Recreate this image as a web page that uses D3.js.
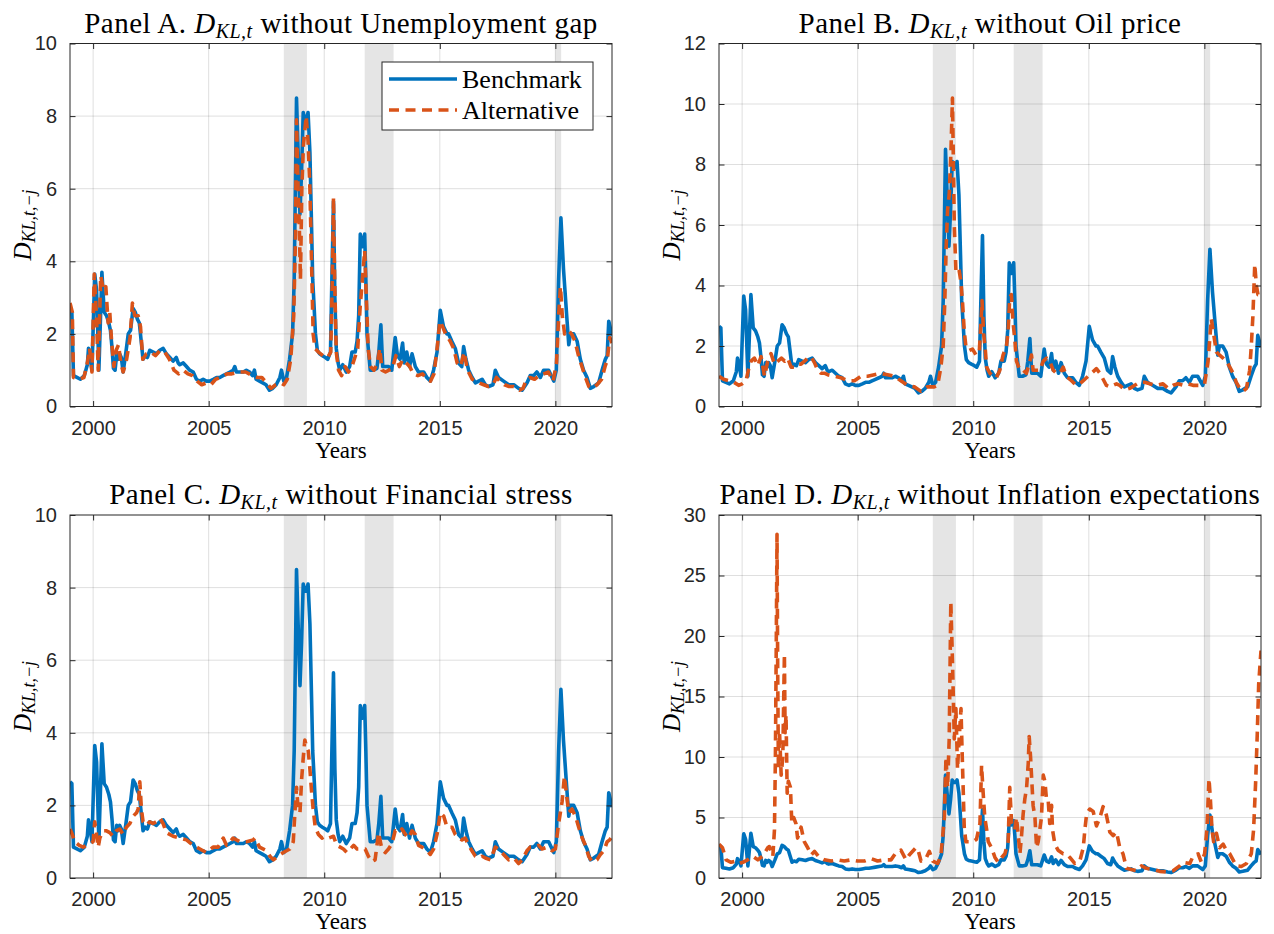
<!DOCTYPE html>
<html>
<head>
<meta charset="utf-8">
<script src="https://cdn.jsdelivr.net/npm/d3@7"></script>
<style>
  body { margin: 0; background: #fff; }
</style>
</head>
<body>
<script>
const width = 1274;
const height = 934;

const xTicks = [2000, 2005, 2010, 2015, 2020];
const xDomain = [1999.0, 2022.45];
const recessions = [[2008.25, 2009.25], [2011.75, 2013.0], [2020.0, 2020.25]];

// benchmark D_KL (same in every panel): [year, value]
const benchmark = [
  [1999.0,2.65],[1999.08,2.6],[1999.15,0.85],[1999.3,0.8],[1999.45,0.75],[1999.62,0.85],[1999.75,1.15],[1999.8,1.6],
  [1999.88,1.35],[1999.95,1.0],[2000.07,3.65],[2000.15,3.2],[2000.25,1.0],[2000.38,3.7],[2000.48,2.6],[2000.58,2.5],
  [2000.68,2.3],[2000.75,2.1],[2000.82,1.6],[2000.88,1.05],[2000.95,1.0],[2001.02,1.45],[2001.08,1.3],[2001.15,1.45],
  [2001.22,1.35],[2001.3,0.95],[2001.42,1.5],[2001.52,2.0],[2001.62,2.1],[2001.73,2.7],[2001.82,2.6],[2001.92,2.4],
  [2002.0,2.3],[2002.08,1.8],[2002.16,1.3],[2002.25,1.4],[2002.35,1.35],[2002.45,1.55],[2002.6,1.5],[2002.74,1.45],
  [2002.88,1.55],[2003.03,1.6],[2003.17,1.45],[2003.32,1.35],[2003.46,1.25],[2003.6,1.35],[2003.68,1.2],[2003.75,1.15],
  [2003.9,1.2],[2004.04,1.1],[2004.18,1.0],[2004.33,0.95],[2004.47,0.75],[2004.62,0.7],[2004.76,0.75],[2004.9,0.7],
  [2005.05,0.7],[2005.2,0.75],[2005.34,0.8],[2005.48,0.8],[2005.62,0.85],[2005.77,0.9],[2005.92,0.95],[2006.06,1.0],
  [2006.13,1.1],[2006.2,0.95],[2006.35,0.95],[2006.5,0.95],[2006.63,1.0],[2006.77,0.95],[2006.9,0.85],[2006.98,1.0],
  [2007.05,0.75],[2007.2,0.7],[2007.34,0.65],[2007.48,0.6],[2007.63,0.45],[2007.77,0.5],[2007.92,0.6],[2008.08,0.8],
  [2008.15,1.0],[2008.25,0.7],[2008.37,0.8],[2008.5,1.3],[2008.63,2.0],[2008.7,3.5],[2008.75,6.0],[2008.8,8.5],
  [2008.87,7.0],[2008.95,5.3],[2009.02,6.5],[2009.09,8.1],[2009.16,7.9],[2009.23,7.9],[2009.3,8.1],[2009.38,7.0],
  [2009.45,5.0],[2009.5,3.5],[2009.55,2.9],[2009.62,2.0],[2009.7,1.55],[2009.8,1.45],[2009.92,1.4],[2010.05,1.35],
  [2010.15,1.3],[2010.27,1.5],[2010.33,3.5],[2010.4,5.65],[2010.46,3.0],[2010.52,1.6],[2010.6,1.2],[2010.67,1.0],
  [2010.8,1.15],[2010.95,0.95],[2011.1,1.1],[2011.2,1.5],[2011.34,1.5],[2011.42,1.8],[2011.49,2.5],[2011.56,4.75],
  [2011.65,4.4],[2011.75,4.75],[2011.8,3.5],[2011.85,2.0],[2011.92,1.5],[2011.99,1.0],[2012.13,1.0],[2012.28,1.05],
  [2012.36,1.5],[2012.45,2.25],[2012.53,1.1],[2012.63,1.1],[2012.78,1.1],[2012.92,1.0],[2013.07,1.9],[2013.17,1.4],
  [2013.28,1.3],[2013.39,1.75],[2013.46,1.2],[2013.57,1.5],[2013.69,1.1],[2013.8,1.45],[2013.94,1.1],[2014.08,0.95],
  [2014.3,0.95],[2014.44,0.8],[2014.59,0.7],[2014.73,1.0],[2014.88,1.5],[2015.02,2.65],[2015.16,2.2],[2015.31,2.0],
  [2015.38,2.0],[2015.52,1.8],[2015.67,1.6],[2015.81,1.2],[2015.95,1.1],[2016.03,1.65],[2016.13,1.3],[2016.25,1.0],
  [2016.4,0.8],[2016.54,0.65],[2016.68,0.7],[2016.83,0.75],[2016.97,0.6],[2017.11,0.55],[2017.3,0.6],[2017.4,1.0],
  [2017.54,0.8],[2017.76,0.7],[2017.98,0.6],[2018.2,0.6],[2018.41,0.5],[2018.56,0.45],[2018.77,0.65],[2018.91,0.85],
  [2019.06,0.85],[2019.2,0.95],[2019.35,0.8],[2019.49,1.0],[2019.71,1.0],[2019.93,0.7],[2020.04,1.0],[2020.14,3.5],
  [2020.24,5.2],[2020.35,3.8],[2020.49,2.5],[2020.58,1.7],[2020.65,2.0],[2020.79,2.0],[2020.94,1.8],[2021.08,1.3],
  [2021.22,1.0],[2021.37,0.8],[2021.51,0.5],[2021.66,0.55],[2021.87,0.65],[2022.02,1.0],[2022.16,1.3],[2022.24,1.4],
  [2022.31,2.35],[2022.45,1.95]
];

// alternative without unemployment gap
const altA = [
  [1999.0,2.85],[1999.1,2.6],[1999.15,0.8],[1999.4,0.75],[1999.6,0.8],[1999.75,1.2],[1999.85,1.6],[1999.95,0.95],
  [2000.05,3.65],[2000.15,2.4],[2000.22,1.0],[2000.33,3.6],[2000.45,3.2],[2000.55,3.3],[2000.65,2.3],[2000.72,2.6],
  [2000.8,1.8],[2000.9,1.1],[2001.0,1.55],[2001.1,1.7],[2001.2,1.2],[2001.3,0.95],[2001.45,1.3],[2001.6,1.9],
  [2001.7,2.85],[2001.8,2.5],[2001.95,2.5],[2002.05,2.2],[2002.15,1.3],[2002.3,1.45],[2002.5,1.5],[2002.7,1.4],
  [2002.9,1.55],[2003.1,1.5],[2003.3,1.3],[2003.5,1.0],[2003.7,0.9],[2003.9,1.0],[2004.1,0.9],[2004.3,0.85],
  [2004.5,0.7],[2004.7,0.6],[2004.9,0.65],[2005.1,0.6],[2005.3,0.75],[2005.5,0.8],[2005.8,0.9],[2006.0,0.9],
  [2006.3,0.95],[2006.6,0.95],[2006.9,0.85],[2007.1,0.8],[2007.3,0.8],[2007.5,0.65],[2007.7,0.5],[2007.9,0.6],
  [2008.1,0.65],[2008.25,0.6],[2008.4,0.75],[2008.55,1.3],[2008.68,2.5],[2008.75,4.5],[2008.8,7.9],[2008.87,6.0],
  [2008.92,5.0],[2008.97,3.5],[2009.03,6.0],[2009.1,7.2],[2009.22,8.0],[2009.3,7.3],[2009.38,6.0],[2009.45,4.0],
  [2009.52,2.0],[2009.6,1.6],[2009.75,1.5],[2009.95,1.4],[2010.15,1.35],[2010.28,1.5],[2010.35,3.5],[2010.4,5.75],
  [2010.45,3.5],[2010.52,1.5],[2010.62,1.0],[2010.75,0.85],[2010.9,1.1],[2011.05,0.95],[2011.2,1.1],[2011.35,1.4],
  [2011.45,1.6],[2011.55,2.7],[2011.65,3.5],[2011.75,4.3],[2011.82,3.0],[2011.9,1.6],[2012.0,1.1],[2012.15,1.0],
  [2012.3,1.2],[2012.4,1.6],[2012.5,1.0],[2012.65,0.95],[2012.8,1.0],[2012.95,1.05],[2013.1,1.4],[2013.25,1.1],
  [2013.4,1.3],[2013.55,1.2],[2013.7,1.1],[2013.85,0.9],[2014.05,0.85],[2014.25,0.9],[2014.45,0.75],[2014.6,0.7],
  [2014.75,0.9],[2014.9,1.7],[2015.0,2.35],[2015.12,2.2],[2015.25,2.0],[2015.45,1.8],[2015.6,1.6],[2015.75,1.2],
  [2015.9,1.1],[2016.05,1.5],[2016.2,1.0],[2016.4,0.75],[2016.55,0.7],[2016.7,0.65],[2016.9,0.6],[2017.1,0.55],
  [2017.3,0.6],[2017.45,0.8],[2017.6,0.7],[2017.8,0.6],[2018.0,0.55],[2018.2,0.55],[2018.45,0.45],[2018.6,0.5],
  [2018.75,0.75],[2018.9,0.8],[2019.1,0.75],[2019.3,0.85],[2019.5,0.9],[2019.7,0.95],[2019.9,0.7],[2020.05,1.2],
  [2020.15,2.6],[2020.22,3.3],[2020.3,2.5],[2020.4,2.0],[2020.55,2.1],[2020.7,2.0],[2020.85,1.8],[2021.0,1.4],
  [2021.15,1.1],[2021.3,0.8],[2021.45,0.55],[2021.6,0.5],[2021.8,0.6],[2022.0,0.75],[2022.15,1.1],[2022.25,1.3],
  [2022.35,1.9],[2022.45,1.75]
];

// alternative without oil price
const altB = [
  [1999.0,1.0],[1999.2,0.9],[1999.45,0.85],[1999.65,0.8],[1999.85,0.7],[2000.0,0.75],[2000.17,0.85],[2000.3,1.3],
  [2000.39,1.5],[2000.53,1.6],[2000.68,1.35],[2000.82,1.65],[2000.97,1.0],[2001.11,1.5],[2001.25,1.75],[2001.4,1.4],
  [2001.55,1.5],[2001.7,1.6],[2001.84,1.5],[2001.97,1.6],[2002.12,1.3],[2002.26,1.3],[2002.4,1.4],[2002.55,1.4],
  [2002.7,1.5],[2002.84,1.6],[2002.98,1.65],[2003.13,1.45],[2003.27,1.2],[2003.41,1.1],[2003.56,1.1],[2003.7,1.05],
  [2004.0,1.0],[2004.28,0.95],[2004.57,0.85],[2004.86,0.85],[2005.14,1.0],[2005.43,1.0],[2005.72,1.05],[2006.0,1.1],
  [2006.29,1.05],[2006.58,1.0],[2006.87,0.85],[2007.16,0.7],[2007.45,0.65],[2007.74,0.5],[2008.02,0.65],[2008.31,0.65],
  [2008.46,0.7],[2008.6,1.3],[2008.7,2.0],[2008.77,3.5],[2008.83,5.3],[2008.89,6.5],[2008.96,7.0],[2009.03,8.3],
  [2009.1,10.2],[2009.18,6.0],[2009.25,4.5],[2009.32,4.6],[2009.39,4.5],[2009.47,4.1],[2009.54,3.4],[2009.61,2.5],
  [2009.68,2.0],[2009.83,1.85],[2009.97,1.9],[2010.12,1.7],[2010.26,1.8],[2010.33,2.7],[2010.38,3.5],[2010.45,2.4],
  [2010.52,1.9],[2010.58,1.3],[2010.72,1.1],[2010.86,1.0],[2011.0,0.95],[2011.15,1.2],[2011.29,1.7],[2011.44,2.0],
  [2011.51,2.5],[2011.58,3.6],[2011.65,3.7],[2011.72,2.8],[2011.8,2.2],[2011.87,1.5],[2012.02,1.2],[2012.16,1.2],
  [2012.3,1.1],[2012.45,1.5],[2012.52,1.7],[2012.59,1.2],[2012.74,1.2],[2012.88,1.2],[2013.03,1.5],[2013.17,1.6],
  [2013.31,1.5],[2013.46,1.2],[2013.6,1.1],[2013.75,1.1],[2013.89,1.3],[2014.03,1.0],[2014.18,0.9],[2014.32,0.8],
  [2014.47,0.7],[2014.68,0.8],[2014.9,0.95],[2015.12,1.1],[2015.33,1.25],[2015.48,1.1],[2015.62,0.9],[2015.76,0.7],
  [2015.91,0.65],[2016.2,0.75],[2016.34,0.7],[2016.56,0.55],[2016.77,0.6],[2016.99,0.7],[2017.2,0.8],[2017.42,0.8],
  [2017.64,0.75],[2017.93,0.7],[2018.21,0.75],[2018.43,0.6],[2018.65,0.7],[2018.86,0.75],[2019.08,0.7],[2019.3,0.75],
  [2019.51,0.7],[2019.8,0.7],[2020.01,0.75],[2020.16,1.5],[2020.3,2.9],[2020.4,2.4],[2020.52,1.8],[2020.66,1.7],
  [2020.81,1.6],[2020.95,1.5],[2021.1,1.3],[2021.24,1.1],[2021.38,0.8],[2021.53,0.6],[2021.67,0.5],[2021.82,0.6],
  [2021.96,1.2],[2022.03,2.0],[2022.1,3.0],[2022.18,4.7],[2022.25,4.0],[2022.32,3.7],[2022.45,3.7]
];

// alternative without financial stress
const altC = [
  [1999.0,1.35],[1999.1,1.2],[1999.2,1.0],[1999.4,0.9],[1999.57,0.85],[1999.72,0.9],[1999.86,0.95],[2000.0,1.0],
  [2000.07,1.55],[2000.15,1.2],[2000.22,0.85],[2000.29,1.1],[2000.43,1.3],[2000.58,1.3],[2000.72,1.25],[2000.86,1.15],
  [2001.0,1.3],[2001.15,1.35],[2001.3,1.2],[2001.44,1.4],[2001.59,1.5],[2001.73,1.7],[2001.88,1.8],[2001.95,1.9],
  [2002.02,2.65],[2002.09,1.9],[2002.16,1.55],[2002.3,1.45],[2002.45,1.55],[2002.6,1.5],[2002.74,1.55],[2002.89,1.65],
  [2003.03,1.5],[2003.17,1.25],[2003.46,1.15],[2003.75,1.1],[2004.04,1.05],[2004.33,0.9],[2004.62,0.8],[2004.9,0.7],
  [2005.19,0.85],[2005.41,0.85],[2005.63,1.1],[2005.77,0.9],[2005.92,1.0],[2006.06,1.1],[2006.35,1.0],[2006.64,1.0],
  [2006.93,1.05],[2007.0,1.1],[2007.2,0.85],[2007.5,0.75],[2007.65,0.6],[2007.8,0.5],[2008.0,0.6],[2008.22,0.7],
  [2008.37,0.75],[2008.51,0.8],[2008.66,1.0],[2008.73,1.8],[2008.8,2.5],[2008.87,1.9],[2008.95,1.8],[2009.02,2.7],
  [2009.09,3.3],[2009.16,3.8],[2009.24,3.6],[2009.31,3.5],[2009.38,3.0],[2009.45,2.4],[2009.52,1.9],[2009.61,1.4],
  [2009.75,1.2],[2009.9,1.1],[2010.04,1.15],[2010.19,1.1],[2010.4,1.15],[2010.54,0.9],[2010.69,0.85],[2010.83,0.8],
  [2010.98,0.7],[2011.13,0.8],[2011.27,0.9],[2011.42,0.8],[2011.56,0.8],[2011.77,0.8],[2011.91,0.6],[2012.06,0.45],
  [2012.2,0.5],[2012.35,1.25],[2012.49,0.8],[2012.64,0.7],[2012.78,0.8],[2012.93,0.95],[2013.07,1.3],[2013.22,1.25],
  [2013.36,1.35],[2013.51,1.2],[2013.65,1.1],[2013.8,1.3],[2013.94,1.2],[2014.08,0.9],[2014.23,0.85],[2014.44,0.75],
  [2014.59,0.65],[2014.73,0.8],[2014.88,1.2],[2015.02,1.8],[2015.17,1.7],[2015.31,1.4],[2015.53,1.4],[2015.67,1.2],
  [2015.82,1.1],[2015.96,1.05],[2016.1,1.1],[2016.25,0.9],[2016.39,0.75],[2016.54,0.6],[2016.68,0.55],[2016.83,0.6],
  [2016.97,0.55],[2017.19,0.5],[2017.4,0.85],[2017.54,0.8],[2017.76,0.65],[2017.98,0.5],[2018.2,0.55],[2018.41,0.4],
  [2018.56,0.5],[2018.77,0.75],[2018.91,0.85],[2019.06,0.85],[2019.27,0.9],[2019.42,0.8],[2019.64,0.85],[2019.86,0.75],
  [2020.0,0.8],[2020.14,1.5],[2020.29,2.1],[2020.39,2.8],[2020.5,2.2],[2020.58,1.8],[2020.72,1.9],[2020.87,1.7],
  [2021.01,1.4],[2021.16,1.1],[2021.3,0.9],[2021.44,0.6],[2021.59,0.45],[2021.8,0.5],[2021.95,0.65],[2022.1,0.75],
  [2022.24,1.0],[2022.35,1.05],[2022.45,1.15]
];

// alternative without inflation expectations
const altD = [
  [1999.0,2.8],[1999.15,2.5],[1999.31,1.5],[1999.52,1.3],[1999.74,1.4],[1999.88,1.2],[2000.03,1.3],[2000.24,1.5],
  [2000.46,1.8],[2000.68,1.5],[2000.89,1.8],[2001.11,2.5],[2001.18,2.6],[2001.33,1.8],[2001.4,4.0],[2001.44,10],
  [2001.48,20],[2001.51,28.4],[2001.54,17],[2001.57,9],[2001.62,12],[2001.69,8.5],[2001.76,10],[2001.83,18.5],
  [2001.86,12],[2001.9,13.5],[2001.95,7],[2002.0,8],[2002.09,7.5],[2002.15,4.5],[2002.23,5.0],[2002.33,4.5],
  [2002.4,3.3],[2002.55,4.2],[2002.69,3.0],[2002.84,2.5],[2002.98,1.9],[2003.13,2.2],[2003.34,1.7],[2003.56,1.5],
  [2003.85,1.4],[2004.14,1.5],[2004.42,1.4],[2004.71,1.5],[2005.0,1.4],[2005.29,1.4],[2005.58,1.6],[2005.86,1.4],
  [2006.15,1.5],[2006.44,1.5],[2006.66,2.1],[2006.87,2.3],[2007.09,1.5],[2007.23,1.9],[2007.52,2.5],[2007.6,2.4],
  [2007.74,1.4],[2007.95,1.6],[2008.1,2.2],[2008.25,1.4],[2008.46,1.2],[2008.6,1.8],[2008.75,5.0],[2008.82,10],
  [2008.89,7.5],[2008.96,11.5],[2009.03,22.8],[2009.1,18],[2009.18,11.5],[2009.25,14],[2009.32,9],[2009.39,11.5],
  [2009.47,14],[2009.51,11],[2009.57,7],[2009.61,4.2],[2009.68,3.0],[2009.86,3.0],[2010.0,3.0],[2010.14,3.2],
  [2010.29,4.5],[2010.36,9.3],[2010.43,7.0],[2010.5,5.0],[2010.58,4.0],[2010.65,3.0],[2010.79,2.5],[2010.94,1.7],
  [2011.08,1.3],[2011.23,1.7],[2011.37,2.0],[2011.51,3.0],[2011.58,7.5],[2011.66,4.5],[2011.8,4.0],[2011.87,5.0],
  [2011.95,3.5],[2012.02,2.0],[2012.09,3.5],[2012.16,5.3],[2012.23,6.5],[2012.31,7.5],[2012.38,9.5],[2012.42,11.7],
  [2012.48,10],[2012.52,8.5],[2012.59,6.0],[2012.67,5.0],[2012.74,2.5],[2012.81,3.0],[2012.95,5.0],[2013.03,8.5],
  [2013.1,8.0],[2013.17,6.5],[2013.24,6.5],[2013.31,4.5],[2013.39,6.0],[2013.43,4.0],[2013.53,2.8],[2013.67,2.3],
  [2013.89,2.0],[2014.03,2.0],[2014.18,1.7],[2014.39,1.2],[2014.61,1.4],[2014.76,2.5],[2014.83,4.0],[2014.9,5.2],
  [2014.97,5.5],[2015.04,5.7],[2015.19,5.5],[2015.33,4.3],[2015.48,5.0],[2015.62,5.9],[2015.76,5.2],[2015.91,3.8],
  [2016.05,3.5],[2016.2,3.8],[2016.34,2.5],[2016.48,2.0],[2016.63,0.8],[2016.84,0.7],[2017.06,0.6],[2017.28,1.0],
  [2017.49,0.8],[2017.78,0.7],[2018.07,0.55],[2018.36,0.5],[2018.65,0.6],[2018.93,1.0],[2019.08,1.3],[2019.37,1.2],
  [2019.51,1.8],[2019.73,2.0],[2019.87,1.3],[2020.01,2.0],[2020.11,4.0],[2020.2,8.2],[2020.26,6.5],[2020.33,4.0],
  [2020.4,3.0],[2020.52,3.7],[2020.66,2.5],[2020.81,2.8],[2020.95,2.3],[2021.1,2.0],[2021.24,1.5],[2021.38,1.0],
  [2021.6,0.95],[2021.82,1.2],[2022.03,2.0],[2022.13,4.0],[2022.22,8.0],[2022.29,12],[2022.35,16.0],[2022.45,18.8]
];

const panelLetters = ["A", "B", "C", "D"];
const panelTopics = ["Unemployment gap", "Oil price", "Financial stress", "Inflation expectations"];
const alternatives = [altA, altB, altC, altD];
const yMaxes = [10, 12, 10, 30];
const ySteps = [2, 2, 2, 5];
const legendLabels = ["Benchmark", "Alternative"];

const blue = "#0072bd";
const orange = "#d95319";
const axisColor = "#262626";
const serif = "'Liberation Serif', 'Times New Roman', serif";
const sans = "'Liberation Sans', Arial, sans-serif";
const lineW = 3.6;
const dash = "10,6.5";

const plotW = 542, plotH = 363;
const lefts = [70, 719, 70, 719];
const tops = [43.5, 43.5, 515, 515];

const svg = d3.select("body").append("svg")
  .attr("width", width)
  .attr("height", height)
  .attr("viewBox", [0, 0, width, height])
  .style("font-family", sans);

panelLetters.forEach((letter, i) => {
  const g = svg.append("g").attr("transform", `translate(${lefts[i]},${tops[i]})`);

  const x = d3.scaleLinear().domain(xDomain).range([0, plotW]);
  const y = d3.scaleLinear().domain([0, yMaxes[i]]).range([plotH, 0]);
  const yTicks = d3.range(0, yMaxes[i] + 0.001, ySteps[i]);

  const clipId = "clip" + letter;
  g.append("clipPath").attr("id", clipId)
    .append("rect").attr("width", plotW).attr("height", plotH);

  // shaded recession bands
  g.append("g").selectAll("rect")
    .data(recessions)
    .join("rect")
      .attr("x", d => x(d[0]))
      .attr("width", d => x(d[1]) - x(d[0]))
      .attr("y", 0)
      .attr("height", plotH)
      .attr("fill", "#e5e5e5");

  // grid
  g.append("g").selectAll("line")
    .data(xTicks)
    .join("line")
      .attr("x1", d => x(d)).attr("x2", d => x(d))
      .attr("y1", 0).attr("y2", plotH)
      .attr("stroke", axisColor).attr("stroke-opacity", 0.15);
  g.append("g").selectAll("line")
    .data(yTicks.slice(1, -1))
    .join("line")
      .attr("y1", d => y(d)).attr("y2", d => y(d))
      .attr("x1", 0).attr("x2", plotW)
      .attr("stroke", axisColor).attr("stroke-opacity", 0.15);

  const line = d3.line().x(d => x(d[0])).y(d => y(d[1]));

  const lines = g.append("g").attr("clip-path", `url(#${clipId})`);
  lines.append("path")
    .datum(benchmark)
    .attr("d", line)
    .attr("fill", "none")
    .attr("stroke", blue)
    .attr("stroke-width", lineW)
    .attr("stroke-linejoin", "round");
  lines.append("path")
    .datum(alternatives[i])
    .attr("d", line)
    .attr("fill", "none")
    .attr("stroke", orange)
    .attr("stroke-width", lineW)
    .attr("stroke-dasharray", dash)
    .attr("stroke-linejoin", "round");

  // axes (MATLAB style: box with inward ticks on all four sides)
  const tickLen = 5.5;
  const bottomAxis = g.append("g").attr("transform", `translate(0,${plotH})`)
    .call(d3.axisBottom(x).tickValues(xTicks).tickFormat(d3.format("d")).tickSizeInner(-tickLen).tickSizeOuter(0).tickPadding(14));
  const topAxis = g.append("g")
    .call(d3.axisTop(x).tickValues(xTicks).tickFormat("").tickSizeInner(-tickLen).tickSizeOuter(0));
  const leftAxis = g.append("g")
    .call(d3.axisLeft(y).tickValues(yTicks).tickSizeInner(-tickLen).tickSizeOuter(0).tickPadding(13));
  const rightAxis = g.append("g").attr("transform", `translate(${plotW},0)`)
    .call(d3.axisRight(y).tickValues(yTicks).tickFormat("").tickSizeInner(-tickLen).tickSizeOuter(0));

  [bottomAxis, topAxis, leftAxis, rightAxis].forEach(a => {
    a.select(".domain").remove();
    a.selectAll("line").attr("stroke", axisColor);
    a.selectAll("text")
      .attr("fill", axisColor)
      .style("font-family", sans)
      .style("font-size", "20px");
  });

  g.append("rect")
    .attr("width", plotW).attr("height", plotH)
    .attr("fill", "none")
    .attr("stroke", axisColor)
    .attr("stroke-width", 1);

  // title
  const title = g.append("text")
    .attr("x", plotW / 2)
    .attr("y", -11)
    .attr("text-anchor", "middle")
    .attr("fill", "#000")
    .style("font-family", serif)
    .style("font-size", "29px")
    .style("letter-spacing", "0.5px");
  title.append("tspan").text(`Panel ${letter}. `);
  title.append("tspan").style("font-style", "italic").text("D");
  title.append("tspan").attr("dy", 5).style("font-style", "italic").style("font-size", "20px").text("KL,t");
  title.append("tspan").attr("dy", -5).text(` without ${panelTopics[i]}`);

  // x label
  g.append("text")
    .attr("x", plotW / 2)
    .attr("y", plotH + 51)
    .attr("text-anchor", "middle")
    .attr("fill", "#000")
    .style("font-family", serif)
    .style("font-size", "23px")
    .text("Years");

  // y label
  const yl = g.append("text")
    .attr("transform", `translate(${-39},${plotH / 2}) rotate(-90)`)
    .attr("text-anchor", "middle")
    .attr("fill", "#000")
    .style("font-family", serif)
    .style("font-size", "25px");
  yl.append("tspan").style("font-style", "italic").text("D");
  yl.append("tspan").attr("dy", 4).style("font-style", "italic").style("font-size", "18px").text("KL,t,\u2212j");

  // legend only in panel A
  if (i === 0) {
    const lg = g.append("g").attr("transform", `translate(${382 - lefts[0]},${62 - tops[0]})`);
    lg.append("rect")
      .attr("width", 211).attr("height", 68)
      .attr("fill", "#fff")
      .attr("stroke", axisColor)
      .attr("stroke-width", 1);
    const rows = lg.selectAll("g")
      .data(legendLabels)
      .join("g")
        .attr("transform", (d, k) => `translate(0,${17 + k * 31})`);
    rows.append("line")
      .attr("x1", 7).attr("x2", 75)
      .attr("stroke", (d, k) => k === 0 ? blue : orange)
      .attr("stroke-width", lineW)
      .attr("stroke-dasharray", (d, k) => k === 0 ? null : dash);
    rows.append("text")
      .attr("x", 80)
      .attr("dy", "0.33em")
      .attr("fill", "#000")
      .style("font-family", serif)
      .style("font-size", "26px")
      .text(d => d);
  }
});
</script>
</body>
</html>
